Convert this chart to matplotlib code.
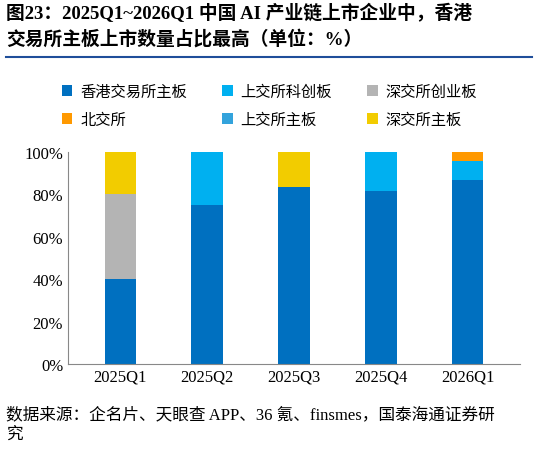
import matplotlib.pyplot as plt
import numpy as np

plt.rcParams['font.family'] = ['Liberation Serif', 'Noto Sans CJK SC']

quarters = ['2025Q1', '2025Q2', '2025Q3', '2025Q4', '2026Q1']
series = ['香港交易所主板', '上交所科创板', '深交所创业板', '北交所', '上交所主板', '深交所主板']
hk = [40, 75, 83.3, 81.8, 87.0]
star = [0, 25, 0, 18.2, 8.7]
gem = [40, 0, 0, 0, 0]
bse = [0, 0, 0, 0, 4.3]
sh_main = [0, 0, 0, 0, 0]
sz_main = [20, 0, 16.7, 0, 0]
values = [hk, star, gem, bse, sh_main, sz_main]
colors = ['#0070C0', '#00B0F0', '#B4B4B4', '#FF9900', '#33A3DC', '#F2CC00']

fig = plt.figure(figsize=(5.38, 4.56), dpi=100)
ax = fig.add_axes([68/538, 1-365/456, 452/538, 212/456])

x = np.arange(len(quarters))
order = [0, 1, 2, 4, 5, 3]
bottom = np.zeros(len(quarters))
handles = {}
for i in order:
    v = np.array(values[i])
    b = ax.bar(x, v, bottom=bottom, width=0.36, color=colors[i], label=series[i])
    handles[i] = b
    bottom += v

ax.set_ylim(0, 100)
ax.set_xlim(-0.6, 4.6)
ax.set_xticks(x)
ax.set_xticklabels(quarters, fontsize=12)
ax.set_yticks(range(0, 101, 20))
ax.set_yticklabels([f'{t}%' for t in range(0, 101, 20)], fontsize=12)
for s in ['top', 'right']:
    ax.spines[s].set_visible(False)
ax.spines['left'].set_color('#888888')
ax.spines['bottom'].set_color('#888888')
ax.tick_params(length=0)

# legend reads row by row, matplotlib fills column by column
leg_order = [0, 3, 1, 4, 2, 5]
fig.legend([handles[i] for i in leg_order], [series[i] for i in leg_order],
           loc='upper left', bbox_to_anchor=(48/538, 1-72/456), ncol=3,
           frameon=False, fontsize=11, handlelength=0.7, handleheight=0.7,
           handletextpad=0.5, columnspacing=2.3, labelspacing=0.9)

fig.text(6/538, 1-4/456, '图23：2025Q1~2026Q1 中国 AI 产业链上市企业中，香港\n交易所主板上市数量占比最高（单位：%）',
         ha='left', va='top', fontsize=13.5, fontweight='bold', linespacing=1.45)
fig.add_artist(plt.Line2D([6/538, 532/538], [1-58/456, 1-58/456], color='#1F4E9A', lw=1.5))
fig.text(6/538, 1-407/456, '数据来源：企名片、天眼查 APP、36 氪、finsmes，国泰海通证券研\n究',
         ha='left', va='top', fontsize=12, linespacing=1.3)

plt.savefig('out.png', dpi=100)
